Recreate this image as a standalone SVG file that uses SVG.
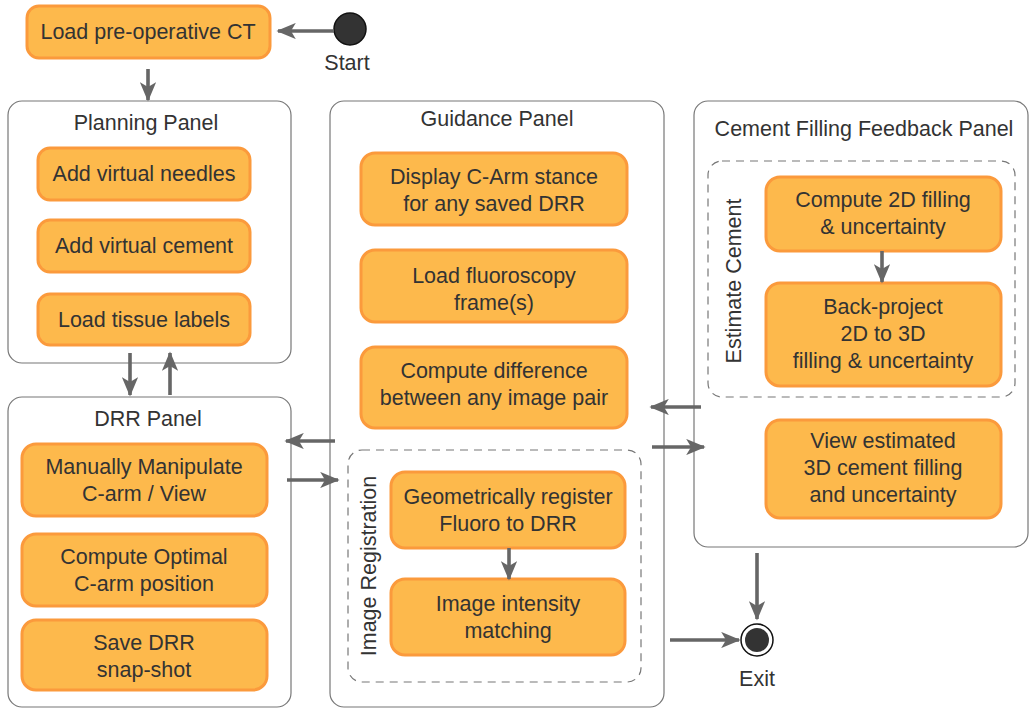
<svg xmlns="http://www.w3.org/2000/svg" width="1031" height="709" viewBox="0 0 1031 709">
  <defs>
    <marker id="arrow" viewBox="0 0 12 10" refX="11" refY="5" markerWidth="5.5" markerHeight="4.5" orient="auto" markerUnits="strokeWidth">
      <path d="M0,0 L12,5 L0,10 L3,5 Z" fill="#666"/>
    </marker>
    <style>
      text { font-family: "Liberation Sans", Arial, sans-serif; fill: #333; }
      .panel { fill: #fff; stroke: #777; stroke-width: 1.2; }
      .group { fill: none; stroke: #777; stroke-width: 1.2; stroke-dasharray: 8 6; }
      .node rect { fill: #fdb94c; stroke: #fb9a3c; stroke-width: 3; }
      .node text { font-size: 21.5px; text-anchor: middle; }
      .title { font-size: 21.5px; text-anchor: middle; }
      .conn line { stroke: #666; stroke-width: 3.6; marker-end: url(#arrow); }
    </style>
  </defs>

  <rect width="1031" height="709" fill="#fff"/>

  <!-- panels -->
  <g id="planning-panel">
    <rect class="panel" x="8" y="101" width="283" height="262" rx="14"/>
    <text class="title" x="146" y="130">Planning Panel</text>
  </g>
  <g id="drr-panel">
    <rect class="panel" x="8" y="397" width="283" height="310" rx="14"/>
    <text class="title" x="148" y="426">DRR Panel</text>
  </g>
  <g id="guidance-panel">
    <rect class="panel" x="330" y="101" width="334" height="606" rx="14"/>
    <text class="title" x="497" y="126">Guidance Panel</text>
  </g>
  <g id="cement-panel">
    <rect class="panel" x="694" y="101" width="334" height="446" rx="14"/>
    <text class="title" x="864" y="136">Cement Filling Feedback Panel</text>
  </g>

  <!-- dashed sub-groups -->
  <g id="image-registration">
    <rect class="group" x="348" y="450" width="293" height="232" rx="14"/>
    <text class="title" transform="translate(376,566) rotate(-90)">Image Registration</text>
  </g>
  <g id="estimate-cement">
    <rect class="group" x="708" y="161" width="307" height="236" rx="14"/>
    <text class="title" transform="translate(741,281) rotate(-90)">Estimate Cement</text>
  </g>

  <!-- start / exit -->
  <g id="start">
    <circle cx="350" cy="29" r="16" fill="#333" stroke="#111" stroke-width="1.5"/>
    <text class="title" x="347" y="70">Start</text>
  </g>
  <g id="exit">
    <circle cx="757" cy="640" r="16" fill="#fff" stroke="#111" stroke-width="1.5"/>
    <circle cx="757" cy="640" r="12" fill="#333"/>
    <text class="title" x="757" y="686">Exit</text>
  </g>

  <!-- activity nodes -->
  <g id="load-ct" class="node">
    <rect x="27" y="6" width="243" height="52" rx="12"/>
    <text x="148" y="39">Load pre-operative CT</text>
  </g>

  <g id="add-needles" class="node">
    <rect x="38" y="148" width="212" height="52" rx="12"/>
    <text x="144" y="181">Add virtual needles</text>
  </g>
  <g id="add-cement" class="node">
    <rect x="38" y="220" width="212" height="52" rx="12"/>
    <text x="144" y="253">Add virtual cement</text>
  </g>
  <g id="load-labels" class="node">
    <rect x="38" y="294" width="212" height="51" rx="12"/>
    <text x="144" y="327">Load tissue labels</text>
  </g>

  <g id="manipulate" class="node">
    <rect x="22" y="444" width="245" height="72" rx="14"/>
    <text x="144" y="474">Manually Manipulate</text>
    <text x="144" y="501">C-arm / View</text>
  </g>
  <g id="optimal" class="node">
    <rect x="22" y="534" width="245" height="72" rx="14"/>
    <text x="144" y="564">Compute Optimal</text>
    <text x="144" y="591">C-arm position</text>
  </g>
  <g id="save-drr" class="node">
    <rect x="22" y="620" width="245" height="70" rx="14"/>
    <text x="144" y="650">Save DRR</text>
    <text x="144" y="677">snap-shot</text>
  </g>

  <g id="display-stance" class="node">
    <rect x="361" y="153" width="266" height="72" rx="14"/>
    <text x="494" y="184">Display C-Arm stance</text>
    <text x="494" y="211">for any saved DRR</text>
  </g>
  <g id="load-fluoro" class="node">
    <rect x="361" y="250" width="266" height="72" rx="14"/>
    <text x="494" y="283">Load fluoroscopy</text>
    <text x="494" y="310">frame(s)</text>
  </g>
  <g id="difference" class="node">
    <rect x="361" y="347" width="266" height="81" rx="14"/>
    <text x="494" y="378">Compute difference</text>
    <text x="494" y="405">between any image pair</text>
  </g>

  <g id="geo-register" class="node">
    <rect x="391" y="472" width="234" height="76" rx="14"/>
    <text x="508" y="504">Geometrically register</text>
    <text x="508" y="531">Fluoro to DRR</text>
  </g>
  <g id="intensity" class="node">
    <rect x="391" y="579" width="234" height="76" rx="14"/>
    <text x="508" y="611">Image intensity</text>
    <text x="508" y="638">matching</text>
  </g>

  <g id="compute-2d" class="node">
    <rect x="766" y="177" width="235" height="74" rx="14"/>
    <text x="883" y="207">Compute 2D filling</text>
    <text x="883" y="234">&amp; uncertainty</text>
  </g>
  <g id="back-project" class="node">
    <rect x="766" y="283" width="235" height="103" rx="14"/>
    <text x="883" y="314">Back-project</text>
    <text x="883" y="341">2D to 3D</text>
    <text x="883" y="368">filling &amp; uncertainty</text>
  </g>
  <g id="view-estimated" class="node">
    <rect x="766" y="420" width="235" height="98" rx="14"/>
    <text x="883" y="448">View estimated</text>
    <text x="883" y="475">3D cement filling</text>
    <text x="883" y="502">and uncertainty</text>
  </g>

  <!-- connectors -->
  <g id="connectors" class="conn">
    <line x1="334" y1="31" x2="278" y2="31"/>
    <line x1="148" y1="69" x2="148" y2="100"/>
    <line x1="130" y1="353" x2="130" y2="395"/>
    <line x1="170" y1="395" x2="170" y2="353"/>
    <line x1="335" y1="441" x2="286" y2="441"/>
    <line x1="287" y1="480" x2="338" y2="480"/>
    <line x1="701" y1="407" x2="651" y2="407"/>
    <line x1="652" y1="447" x2="704" y2="447"/>
    <line x1="509" y1="548" x2="509" y2="579"/>
    <line x1="882" y1="251" x2="882" y2="282"/>
    <line x1="757" y1="553" x2="757" y2="619"/>
    <line x1="670" y1="640" x2="739" y2="640"/>
  </g>
</svg>
